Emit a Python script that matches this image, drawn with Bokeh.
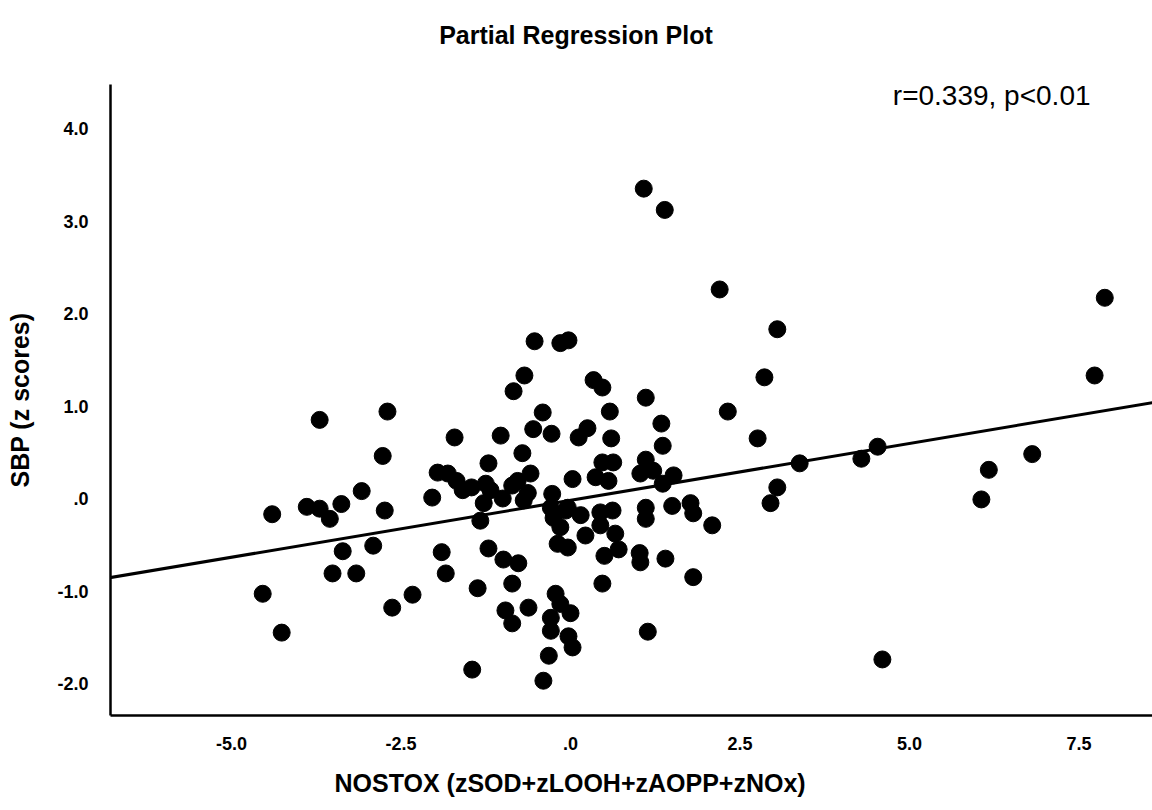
from bokeh.plotting import figure
from bokeh.models import Range1d, FixedTicker, Label, Slope, Title, Div
from bokeh.layouts import column
from bokeh.embed import file_html
from bokeh.resources import INLINE

# ---- data ----
x_vals = [
    -4.54, -4.40, -4.26, -3.89, -3.70, -3.55, -3.38, -3.70, -3.36, -3.51, -3.16, -3.08, -2.91, -2.77, -2.74, -2.70, -2.63,
    -2.33, -2.04, -1.96, -1.81, -1.90, -1.84, -1.71, -1.68, -1.59, -1.46, -1.45, -1.37, -1.33, -1.25, -1.28, -1.21, -1.21,
    -1.18, -1.03, -1.00, -0.99, -0.96, -0.86, -0.86, -0.86, -0.84, -0.78, -0.77, -0.71, -0.68, -0.62, -0.63, -0.59, -0.69,
    -0.55, -0.53, -0.41, -0.40, -0.32, -0.29, -0.29, -0.29, -0.28, -0.27, -0.25, -0.22, -0.19, -0.15, -0.03, -0.15, -0.15,
    -0.07, -0.04,
    0.03, -0.04, 0.15, 0.22, 0.12, 0.25, 0.34, 0.47, 0.58, 0.60, 0.37, 0.56, 0.47, 0.63, 0.44, 0.62, 0.44, 0.66, 0.71,
    0.50, 0.47, 1.03, 1.22, 1.11, 1.11, 1.34, 1.36, 1.52, 1.36, 1.11, 1.11, 1.02, 1.03, 1.40, 1.14, 1.50, 1.77, 1.81,
    2.09, 1.81, 1.08, 1.39, 2.20, 2.32, 0.00, -0.03, 0.03,
    3.05, 2.86, 2.76, 3.38, 3.05, 2.95, 4.29, 4.53, 4.60, 6.06, 6.17, 6.81, 7.73, 7.88,
]
y_vals = [
    -1.03, -0.17, -1.45, -0.09, -0.11, -0.22, -0.06, 0.85, -0.57, -0.81, -0.81, 0.08, -0.51, 0.46, -0.13, 0.94, -1.18,
    -1.04, 0.01, 0.28, 0.27, -0.58, -0.81, 0.66, 0.19, 0.09, 0.12, -1.85, -0.97, -0.24, 0.16, -0.05, 0.38, -0.54,
    0.09, 0.68, 0.00, -0.66, -1.21, -1.35, -0.92, 0.14, 1.16, 0.19, -0.70, 0.49, 1.33, -1.18, 0.06, 0.27, -0.02,
    0.75, 1.70, 0.93, -1.97, -1.70, -0.10, -1.29, -1.43, 0.70, 0.05, -0.21, -1.03, -0.49, 1.68, 1.71, -0.31, -1.14,
    -0.13, -0.53,
    0.21, -0.10, -0.18, -0.40, 0.66, 0.76, 1.28, 1.20, 0.94, 0.65, 0.23, 0.19, 0.39, 0.39, -0.15, -0.13, -0.29, -0.38, -0.55,
    -0.62, -0.92, 0.27, 0.30, 0.42, 1.09, 0.81, 0.57, 0.25, 0.16, -0.10, -0.22, -0.59, -0.69, -0.65, -1.44, -0.08, -0.05, -0.16,
    -0.29, -0.85, 3.35, 3.12, 2.26, 0.94, -1.24, -1.49, -1.61,
    1.83, 1.31, 0.65, 0.38, 0.12, -0.05, 0.43, 0.56, -1.74, -0.01, 0.31, 0.48, 1.33, 2.17,
]
line_slope = 0.123
line_intercept = -0.02

x_ticks = [-5.0, -2.5, 0.0, 2.5, 5.0, 7.5]
x_tick_labels = ["-5.0", "-2.5", ".0", "2.5", "5.0", "7.5"]
y_ticks = [-2.0, -1.0, 0.0, 1.0, 2.0, 3.0, 4.0]
y_tick_labels = ["-2.0", "-1.0", ".0", "1.0", "2.0", "3.0", "4.0"]

title_text = "Partial Regression Plot"
x_title = "NOSTOX (zSOD+zLOOH+zAOPP+zNOx)"
y_title = "SBP (z scores)"
stat_text = "r=0.339, p<0.01"

FONT = "Liberation Sans"

header = Div(
    text=title_text, width=1152, height=70, margin=0,
    styles={"text-align": "center", "font-family": FONT, "font-weight": "bold",
            "font-size": "25px", "line-height": "70px", "color": "black", "background": "white"},
)

p = figure(
    width=1152, height=740,
    x_range=Range1d(-6.785, 8.584), y_range=Range1d(-2.346, 4.476),
    output_backend="svg", toolbar_location=None, margin=0,
    min_border_left=110, min_border_right=0, min_border_top=14, min_border_bottom=95,
)
p.grid.visible = False
p.outline_line_color = None
p.background_fill_color = "white"
p.border_fill_color = "white"

for ax in (p.xaxis[0], p.yaxis[0]):
    ax.axis_line_color = "black"
    ax.axis_line_width = 2.5
    ax.major_tick_line_color = None
    ax.minor_tick_line_color = None
    ax.major_tick_in = 0
    ax.major_tick_out = 0
    ax.major_label_text_font = FONT
    ax.major_label_text_font_style = "bold"
    ax.major_label_text_font_size = "18px"
    ax.major_label_text_color = "black"
    ax.axis_label_text_font = FONT
    ax.axis_label_text_font_style = "bold"
    ax.axis_label_text_font_size = "25px"
    ax.axis_label_text_color = "black"

p.xaxis.ticker = FixedTicker(ticks=x_ticks)
p.xaxis.major_label_overrides = {t: l for t, l in zip(x_ticks, x_tick_labels)}
p.xaxis.major_label_standoff = 21
p.yaxis.ticker = FixedTicker(ticks=y_ticks)
p.yaxis.major_label_overrides = {t: l for t, l in zip(y_ticks, y_tick_labels)}
p.yaxis.major_label_standoff = 22
p.yaxis.axis_label = y_title
p.yaxis.axis_label_standoff = 20

p.scatter(x_vals, y_vals, size=17, fill_color="black", line_color="black")
p.add_layout(Slope(gradient=line_slope, y_intercept=line_intercept, line_color="black", line_width=3))

p.add_layout(Title(text=x_title, align="left", offset=224, vertical_align="bottom", standoff=28,
                   text_font=FONT, text_font_style="bold", text_font_size="25px", text_color="black"), "below")
p.add_layout(Label(x=7.67, y=4.36, text=stat_text, text_align="right", text_baseline="middle",
                   text_font=FONT, text_font_style="normal", text_font_size="28px", text_color="black"))

layout = column(header, p, spacing=0, margin=0)
open("out.html", "w").write(file_html(layout, INLINE))
